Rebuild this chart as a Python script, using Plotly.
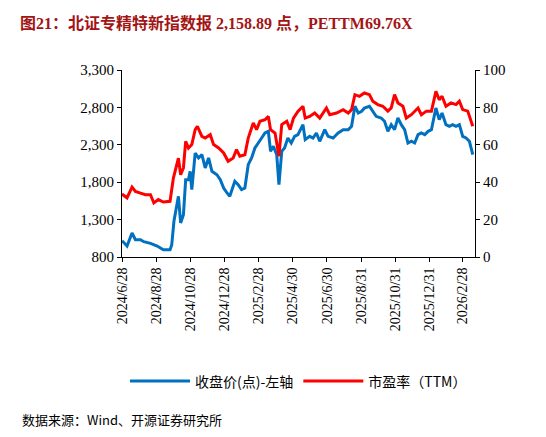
import pandas as pd
import plotly.graph_objects as go

# Index close (points): day offset from 2024-06-28 and value
idx_days = [0,9,18,24,33,39,51,63,74,86,89,93,101,105,110,114,119,122,125,131,137,143,149,155,161,170,176,182,188,193,196,202,208,214,220,226,232,238,244,250,256,262,266,271,277,281,286,291,297,303,309,315,324,328,336,342,348,354,363,369,378,387,396,405,411,417,423,429,434,443,449,455,464,470,476,482,488,494,500,506,512,518,524,530,536,542,548,554,562,568,573,580,586,592,598,604,610,616,622,628]
idx_vals = [1018,947,1121,1032,1032,1005,983,947,898,898,960,1277,1611,1255,1366,1834,1834,1946,1700,2190,2124,2168,1990,2124,1946,1900,1834,1722,1656,1611,1678,1812,1767,1700,1722,2034,2124,2257,2324,2391,2458,2480,2213,2280,2168,1767,2213,2257,2391,2324,2413,2435,2569,2369,2413,2391,2458,2347,2502,2413,2391,2458,2502,2502,2547,2815,2725,2748,2792,2815,2748,2681,2659,2614,2480,2569,2502,2659,2569,2502,2324,2347,2324,2435,2458,2435,2480,2502,2792,2636,2725,2569,2547,2569,2547,2569,2413,2391,2347,2168]

# PE TTM
pe_days = [0,9,18,24,33,42,51,57,65,74,86,92,101,105,110,114,119,125,131,135,143,149,158,164,173,182,190,199,205,211,220,226,235,241,247,256,262,266,274,281,286,295,301,307,315,324,328,336,345,354,366,372,384,396,405,411,417,425,434,443,449,458,467,476,482,488,494,503,509,518,530,536,545,554,562,568,573,580,589,598,604,610,619,622,628]
pe_vals = [33.7,31.6,37.4,35.1,34.2,33.3,33.3,28.9,30.7,29.4,29.8,42.2,52.9,44.0,47.6,61.9,58.3,60.1,68.1,69.9,64.5,63.6,65.4,60.1,58.3,55.6,51.2,52.9,57.4,53.9,54.7,63.6,71.7,68.1,72.6,73.4,75.2,68.1,66.3,53.9,70.8,72.6,68.1,74.3,77.9,80.6,74.3,75.2,77.0,74.3,79.7,76.1,77.0,78.8,77.0,78.8,86.8,85.9,87.7,86.8,83.3,81.5,80.6,78.0,79.7,86.8,82.4,80.6,74.3,76.1,79.7,76.1,78.0,78.0,88.6,84.1,86.0,80.6,82.4,81.5,83.3,78.8,78.0,75.2,69.9]

x_tick_labels = ["2024/6/28","2024/8/28","2024/10/28","2024/12/28","2025/2/28","2025/4/30",
                 "2025/6/30","2025/8/31","2025/10/31","2025/12/31","2026/2/28"]
y_left_ticks = [800, 1300, 1800, 2300, 2800, 3300]

start = pd.Timestamp("2024-06-28")
idx_x = [start + pd.Timedelta(days=d) for d in idx_days]
pe_x = [start + pd.Timedelta(days=d) for d in pe_days]
tickvals = [pd.Timestamp(t.replace("/", "-")) for t in x_tick_labels]

serif = "Liberation Serif, Noto Sans CJK SC"
fig = go.Figure()
fig.add_trace(go.Scatter(x=idx_x, y=idx_vals, mode="lines", name="收盘价(点)-左轴",
                         line=dict(color="#0070C0", width=3)))
fig.add_trace(go.Scatter(x=pe_x, y=pe_vals, mode="lines", name="市盈率（TTM）", yaxis="y2",
                         line=dict(color="#FF0000", width=3)))

fig.update_layout(
    width=546, height=437, paper_bgcolor="white", plot_bgcolor="white",
    margin=dict(l=114, r=79, t=62, b=188),
    font=dict(family=serif, size=15, color="black"),
    showlegend=True,
    legend=dict(orientation="h", x=0.5, xanchor="center", y=-0.58, yanchor="top",
                font=dict(family="Noto Sans CJK SC, Liberation Serif", size=14), itemwidth=60),
    xaxis=dict(range=[start, start + pd.Timedelta(days=632)], tickvals=tickvals, ticktext=x_tick_labels,
               tickangle=-90, showgrid=False, showline=True, linecolor="black", ticks="outside",
               ticklen=4, tickcolor="black", tickfont=dict(size=14), automargin=False),
    yaxis=dict(range=[800, 3300], tickvals=y_left_ticks, tickformat=",", showgrid=False, showline=True,
               linecolor="black", ticks="outside", ticklen=4, tickcolor="black", zeroline=False,
               automargin=False),
    yaxis2=dict(range=[0, 100], dtick=20, overlaying="y", side="right", showgrid=False, showline=True,
                linecolor="black", ticks="outside", ticklen=4, tickcolor="black", zeroline=False,
                automargin=False),
    annotations=[
        dict(text="<b>图21：北证专精特新指数报 2,158.89 点，PETTM69.76X</b>", xref="paper", yref="paper",
             x=-0.295, y=1.25, xanchor="left", yanchor="middle", showarrow=False,
             font=dict(family=serif, size=16, color="#A31515")),
        dict(text="数据来源：Wind、开源证券研究所", xref="paper", yref="paper",
             x=-0.29, y=-0.87, xanchor="left", yanchor="middle", showarrow=False,
             font=dict(family="Noto Sans CJK SC", size=13, color="black")),
    ],
)
fig.write_html("out.html")
